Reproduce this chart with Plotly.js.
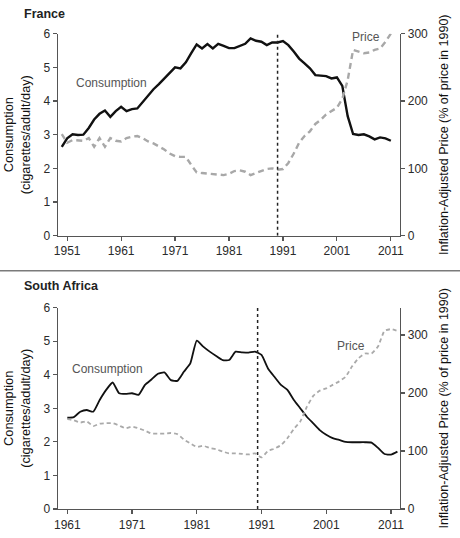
<!DOCTYPE html>
<html><head><meta charset="utf-8">
<script src="https://cdn.plot.ly/plotly-3.0.1.min.js"></script>
<style>html,body{margin:0;padding:0;background:#fff;}#chart{width:460px;height:538px;}</style>
</head><body><div id="chart"></div>
<script>
// ---- France ----
const franceYears = [1950,1951,1952,1953,1954,1955,1956,1957,1958,1959,
  1960,1961,1962,1963,1964,1965,1966,1967,1968,1969,
  1970,1971,1972,1973,1974,1975,1976,1977,1978,1979,
  1980,1981,1982,1983,1984,1985,1986,1987,1988,1989,
  1990,1991,1992,1993,1994,1995,1996,1997,1998,1999,
  2000,2001,2002,2003,2004,2005,2006,2007,2008,2009,
  2010,2011];
const franceConsumption = [2.64,2.89,3.01,2.99,3.00,3.20,3.45,3.62,3.72,3.53,
  3.70,3.83,3.70,3.76,3.78,3.98,4.15,4.35,4.50,4.66,
  4.82,5.00,4.97,5.15,5.42,5.68,5.56,5.69,5.56,5.70,
  5.64,5.57,5.57,5.63,5.70,5.86,5.79,5.76,5.66,5.74,
  5.74,5.78,5.66,5.47,5.26,5.12,4.97,4.77,4.76,4.74,
  4.67,4.70,4.45,3.55,3.02,2.99,3.01,2.95,2.86,2.92,
  2.89,2.82];
const francePrice = [151,138,142,142,141,145,132,145,132,145,
  141,140,145,147,148,145,140,137,133,128,
  122,118,117,117,105,94,93,92,91,90,
  90,92,96,97,95,90,93,96,99,100,
  98,99,108,122,138,148,155,166,172,180,
  185,190,203,231,276,273,271,272,276,278,
  288,300];
const franceTicks = [1951,1961,1971,1981,1991,2001,2011];

// ---- South Africa ----
const saYears = [1961,1962,1963,1964,1965,1966,1967,1968,1969,1970,
  1971,1972,1973,1974,1975,1976,1977,1978,1979,1980,
  1981,1982,1983,1984,1985,1986,1987,1988,1989,1990,
  1991,1992,1993,1994,1995,1996,1997,1998,1999,2000,
  2001,2002,2003,2004,2005,2006,2007,2008,2009,2010,
  2011,2012];
const saConsumption = [2.72,2.74,2.90,2.95,2.90,3.25,3.55,3.77,3.45,3.43,
  3.45,3.40,3.70,3.86,4.03,4.07,3.84,3.82,4.09,4.34,
  5.02,4.84,4.69,4.56,4.44,4.44,4.69,4.67,4.66,4.69,
  4.59,4.19,3.94,3.70,3.55,3.25,3.00,2.75,2.55,2.35,
  2.21,2.11,2.06,2.00,1.99,1.99,1.99,1.98,1.82,1.64,
  1.62,1.71];
const saPrice = [155,153,149,151,143,147,148,148,144,139,
  142,139,135,130,130,130,131,129,120,113,
  107,109,105,103,99,96,96,95,94,96,
  89,100,104,110,122,138,151,176,195,204,
  208,214,220,228,246,260,268,268,280,307,
  310,307];
const saTicks = [1961,1971,1981,1991,2001,2011];

const leftTicks = [0,1,2,3,4,5,6];
const rightTicks = [0,100,200,300];

const axisCommon = {
  ticks:'outside', ticklen:4, tickwidth:1.2, tickcolor:'#555',
  showline:true, linecolor:'#555', linewidth:1.3,
  showgrid:false, zeroline:false, fixedrange:true,
  tickfont:{family:'"Liberation Sans Narrow", "Liberation Sans", Arial, sans-serif', size:12, color:'#2a2a2a'}
};
const leftTitle = {text:'Consumption<br>(cigarettes/adult/day)', font:{size:12.75, color:'#111'}, standoff:10};
const rightTitle = {text:'Inflation-Adjusted Price (% of price in 1990)', font:{size:12.5, color:'#111'}, standoff:12};

const traces = [
  {x:franceYears, y:franceConsumption, xaxis:'x', yaxis:'y', mode:'lines',
   line:{color:'#111', width:2.4}, hoverinfo:'skip'},
  {x:franceYears, y:francePrice, xaxis:'x', yaxis:'y2', mode:'lines',
   line:{color:'#a8a8a8', width:2.4, dash:'6px,4px'}, hoverinfo:'skip'},
  {x:saYears, y:saConsumption, xaxis:'x2', yaxis:'y3', mode:'lines',
   line:{color:'#111', width:1.8, shape:'spline', smoothing:0.5}, hoverinfo:'skip'},
  {x:saYears, y:saPrice, xaxis:'x2', yaxis:'y4', mode:'lines',
   line:{color:'#aaaaaa', width:1.8, dash:'4px,3px', shape:'spline', smoothing:0.5}, hoverinfo:'skip'}
];

const layout = {
  width:460, height:538,
  margin:{l:0, r:0, t:0, b:0},
  paper_bgcolor:'#fff', plot_bgcolor:'#fff',
  showlegend:false,
  font:{family:'"Liberation Sans", Arial, sans-serif', color:'#333', size:11.5},
  xaxis:Object.assign({}, axisCommon, {domain:[0.1261,0.8696], range:[1949.3,2012.7], anchor:'y', tickvals:franceTicks}),
  yaxis:Object.assign({}, axisCommon, {domain:[0.5619,0.9374], range:[0,6], anchor:'x', tickvals:leftTicks, title:leftTitle}),
  yaxis2:Object.assign({}, axisCommon, {overlaying:'y', side:'right', anchor:'x', range:[0,300], tickvals:rightTicks, title:rightTitle}),
  xaxis2:Object.assign({}, axisCommon, {domain:[0.1261,0.8696], range:[1959.56,2012.4], anchor:'y3', tickvals:saTicks}),
  yaxis3:Object.assign({}, axisCommon, {domain:[0.0539,0.4281], range:[0,6], anchor:'x2', tickvals:leftTicks, title:leftTitle}),
  yaxis4:Object.assign({}, axisCommon, {overlaying:'y3', side:'right', anchor:'x2', range:[0,347], tickvals:rightTicks, title:rightTitle}),
  shapes:[
    {type:'line', xref:'paper', yref:'paper', x0:0, x1:1, y0:0.4968, y1:0.4968, line:{color:'#7a7a7a', width:1.5}},
    {type:'line', xref:'x', yref:'y', x0:1990, x1:1990, y0:0, y1:6.06, line:{color:'#222', width:1.5, dash:'dot'}},
    {type:'line', xref:'x2', yref:'y3', x0:1990.4, x1:1990.4, y0:0, y1:6.08, line:{color:'#222', width:1.5, dash:'dot'}}
  ],
  annotations:[
    {text:'<b>France</b>', xref:'paper', yref:'paper', x:22/460, y:1-14/538, xanchor:'left', yanchor:'middle', showarrow:false, font:{size:12.5, color:'#222'}},
    {text:'<b>South Africa</b>', xref:'paper', yref:'paper', x:22/460, y:1-285.7/538, xanchor:'left', yanchor:'middle', showarrow:false, font:{size:12.5, color:'#222'}},
    {text:'Consumption', xref:'x', yref:'y', x:1959.3, y:4.54, showarrow:false, font:{size:12, color:'#555'}},
    {text:'Price', xref:'x', yref:'y2', x:2006.4, y:295.6, showarrow:false, font:{size:12, color:'#555'}},
    {text:'Consumption', xref:'x2', yref:'y3', x:1967.2, y:4.17, showarrow:false, font:{size:12, color:'#555'}},
    {text:'Price', xref:'x2', yref:'y4', x:2004.8, y:281.6, showarrow:false, font:{size:12, color:'#555'}}
  ]
};

Plotly.newPlot('chart', traces, layout, {staticPlot:true, displayModeBar:false});
</script>
</body></html>
